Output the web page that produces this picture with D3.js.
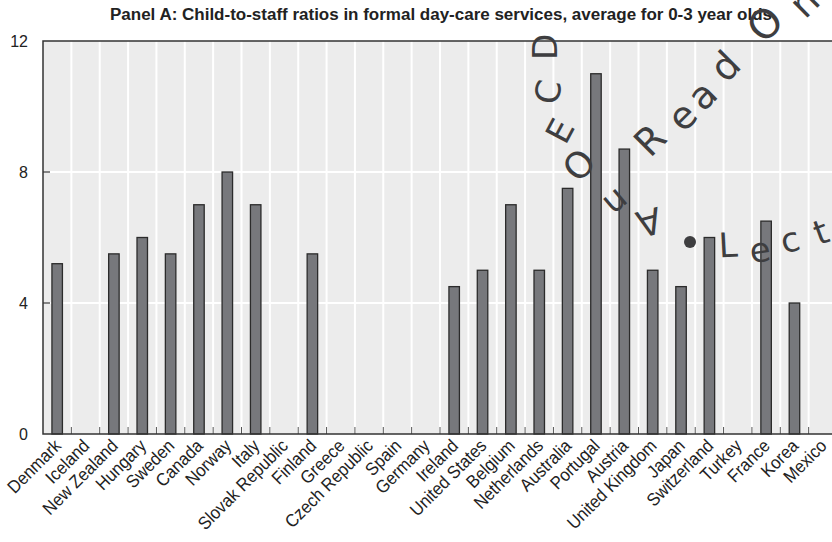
<!DOCTYPE html>
<html><head><meta charset="utf-8">
<script src="https://cdn.jsdelivr.net/npm/d3@7"></script>
<style>body{margin:0;background:#fff}svg{display:block}</style>
</head><body><svg id="c" width="832" height="542"></svg>
<script>
const categories = ["Denmark","Iceland","New Zealand","Hungary","Sweden","Canada","Norway","Italy","Slovak Republic","Finland","Greece","Czech Republic","Spain","Germany","Ireland","United States","Belgium","Netherlands","Australia","Portugal","Austria","United Kingdom","Japan","Switzerland","Turkey","France","Korea","Mexico"];
const values = [5.2,null,5.5,6,5.5,7,8,7,null,5.5,null,null,null,null,4.5,5,7,5,7.5,11,8.7,5,4.5,6,null,6.5,4,null];
const yTicks = [0,4,8,12];
const titleText = "Panel A: Child-to-staff ratios in formal day-care services, average for 0-3 year olds";
// watermark glyphs (decoration overlay)
const wmChars = ["D","C","E","O","n","A","R","e","a","d","O","n","L","e","c","t"];

(function(){
const FONT = "'Liberation Sans',Arial,sans-serif";
const svg = d3.select("#c");
const mL = 43, mT = 41, mB = 434, mR = 837;

const x = d3.scaleBand().domain(categories).range([mL, mR]).padding(0);
const y = d3.scaleLinear().domain([0,12]).range([mB, mT]);

svg.append("rect").attr("x",mL).attr("y",mT).attr("width",mR-mL).attr("height",mB-mT).attr("fill","#ececec");

svg.append("g").selectAll("line").data(yTicks.filter(d=>d>0&&d<12)).join("line")
  .attr("x1",mL).attr("x2",mR).attr("y1",d=>y(d)).attr("y2",d=>y(d))
  .attr("stroke","#fff").attr("stroke-width",2);
const bounds = categories.slice(1).map(c=>x(c));
svg.append("g").selectAll("line").data(bounds).join("line")
  .attr("x1",d=>d).attr("x2",d=>d).attr("y1",mT).attr("y2",mB)
  .attr("stroke","#fff").attr("stroke-width",2);

const bw = x.bandwidth()*0.37;
svg.append("g").selectAll("rect").data(categories.map((c,i)=>({c,v:values[i]})).filter(d=>d.v!=null)).join("rect")
  .attr("x",d=>x(d.c)+x.bandwidth()/2-bw/2).attr("width",bw)
  .attr("y",d=>y(d.v)).attr("height",d=>y(0)-y(d.v))
  .attr("fill","#77787c").attr("stroke","#2b2b2b").attr("stroke-width",1.3);

svg.append("g").selectAll("line").data(bounds).join("line")
  .attr("x1",d=>d).attr("x2",d=>d).attr("y1",mB).attr("y2",mB-7)
  .attr("stroke","#555").attr("stroke-width",1);
svg.append("g").selectAll("line").data(yTicks.filter(d=>d>0&&d<12)).join("line")
  .attr("x1",mL).attr("x2",mL+7).attr("y1",d=>y(d)).attr("y2",d=>y(d))
  .attr("stroke","#333").attr("stroke-width",1.2);

svg.append("path").attr("d",`M${mR+5},${mT}H${mL}V${mB}H${mR+5}`)
  .attr("fill","none").attr("stroke","#333").attr("stroke-width",1.5);

svg.append("g").selectAll("text").data(yTicks).join("text")
  .attr("x",28).attr("y",d=>y(d)).attr("dy","0.36em").attr("text-anchor","end")
  .attr("font-family",FONT).attr("font-size",16).attr("fill","#222").text(d=>d);

svg.append("g").selectAll("text").data(categories).join("text")
  .attr("transform",d=>`translate(${x(d)+x.bandwidth()/2+5},${mB+13}) rotate(-45) scale(0.92,1)`)
  .attr("text-anchor","end").attr("font-family",FONT).attr("font-size",18).attr("fill","#222").text(d=>d);

svg.append("text").attr("x",441).attr("y",20).attr("text-anchor","middle")
  .attr("font-family",FONT).attr("font-weight","bold").attr("font-size",16).attr("fill","#222")
  .attr("textLength",662).attr("lengthAdjust","spacingAndGlyphs")
  .text(titleText);

const wmPos = [[545,47,-90,34],[548,92,-80,34],[560,131,-62,34],[579,165,-48,36],[617,203,140,34],[649,222,165,36],
  [650,140,-45,38],[682,116,-45,38],[702,95,-45,38],[725,66,-45,38],[765,24,-45,40],[804,2,-45,38],
  [728,245,-3,34],[760,250,-8,34],[790,240,-14,34],[821,232,-20,34]];
const wm = svg.append("g").attr("fill","#3e3e40").attr("font-family","'DejaVu Sans',sans-serif");
wm.selectAll("text").data(wmChars.map((ch,i)=>({ch,p:wmPos[i]}))).join("text")
  .attr("transform",d=>`translate(${d.p[0]},${d.p[1]}) rotate(${d.p[2]})`)
  .attr("font-size",d=>d.p[3])
  .attr("text-anchor","middle").attr("dy","0.35em").text(d=>d.ch);
wm.append("circle").attr("cx",690).attr("cy",242).attr("r",6);
})();
</script></body></html>
